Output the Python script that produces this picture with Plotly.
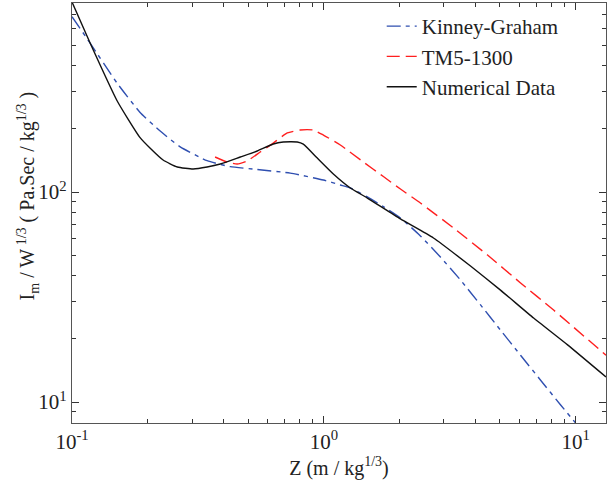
import plotly.graph_objects as go

# Kinney-Graham
kg_z = [0.1, 0.118, 0.151, 0.186, 0.224, 0.269, 0.344, 0.425, 0.544, 0.736, 0.996, 1.163, 1.275,
        1.489, 1.724, 2.015, 2.419, 2.905, 3.489, 4.192, 5.03, 6.043, 7.26, 8.72, 10.0]
kg_i = [684, 512, 330, 240, 195, 164, 141, 132, 128, 123, 114, 108, 104.5,
        94.7, 85.2, 75.2, 61.8, 49.0, 38.1, 29.0, 22.0, 16.7, 12.7, 9.68, 7.94]

# TM5-1300
tm_z = [0.370, 0.413, 0.453, 0.496, 0.559, 0.630, 0.716, 0.806, 0.908, 0.996, 1.163, 1.435,
        1.724, 2.015, 2.419, 3.273, 4.468, 6.043, 8.177, 13.2]
tm_i = [146.8, 139, 135.9, 140.5, 155, 171, 191, 197.3, 197.3, 186.8, 167.4, 139,
        118.5, 103.3, 88.6, 67.4, 50.1, 36.9, 27.4, 16.7]

# Numerical data
num_z = [0.1, 0.118, 0.151, 0.186, 0.204, 0.230, 0.262, 0.303, 0.344, 0.388, 0.466, 0.544,
         0.630, 0.690, 0.784, 0.829, 0.942, 1.091, 1.275, 1.489, 2.015, 2.725, 3.824, 5.03,
         6.81, 9.29, 13.2]
num_i = [803, 512, 272, 182, 162, 142, 131.5, 128.7, 131.5, 135.9, 146.8, 156.8,
         169.3, 173, 173, 169, 145, 121.8, 104.5, 93.6, 74.4, 60.4, 44.4, 34.1,
         25.1, 18.7, 13.15]

x_tickvals = [0.1, 1, 10]
x_ticktext = ["10<sup>-1</sup>", "10<sup>0</sup>", "10<sup>1</sup>"]
y_tickvals = [10, 100]
y_ticktext = ["10<sup>1</sup>", "10<sup>2</sup>"]

x_minor = [m * 10 ** k for k in (-1, 0, 1) for m in range(2, 10)]
y_minor = [m * 10 ** k for k in (0, 1, 2) for m in range(2, 10)]

FONT = "Liberation Serif"

fig = go.Figure()
fig.add_trace(go.Scatter(x=kg_z, y=kg_i, mode="lines", name="Kinney-Graham",
                         line=dict(color="#2f4fb0", width=1.4, dash="14px,5px,4px,5px",
                                   shape="spline", smoothing=0.5)))
fig.add_trace(go.Scatter(x=tm_z, y=tm_i, mode="lines", name="TM5-1300",
                         line=dict(color="#ff1f1f", width=1.4, dash="13px,6px",
                                   shape="spline", smoothing=0.5)))
fig.add_trace(go.Scatter(x=num_z, y=num_i, mode="lines", name="Numerical Data",
                         line=dict(color="#111111", width=1.4,
                                   shape="spline", smoothing=0.5)))

axis_common = dict(showgrid=False, zeroline=False, showline=True, linecolor="#555555",
                   linewidth=1.2, mirror="ticks", ticks="inside", ticklen=7,
                   tickcolor="#333333", tickwidth=1,
                   tickfont=dict(family=FONT, size=21, color="#222222"))

fig.update_xaxes(type="log", range=[-1, 1.1206], tickvals=x_tickvals, ticktext=x_ticktext,
                 minor=dict(ticks="inside", ticklen=4, tickcolor="#333333", tickvals=x_minor),
                 title=dict(text="Z (m / kg<sup>1/3</sup>)", font=dict(family=FONT, size=20, color="#222222"),
                            standoff=4),
                 **axis_common)
fig.update_yaxes(type="log", range=[0.9, 2.9], tickvals=y_tickvals, ticktext=y_ticktext,
                 minor=dict(ticks="inside", ticklen=4, tickcolor="#333333", tickvals=y_minor),
                 **axis_common)

fig.add_annotation(text="I<sub>m</sub> / W<sup> 1/3</sup> ( Pa.Sec / kg<sup>1/3</sup> )",
                   xref="paper", yref="paper", x=-0.082, y=0.54, textangle=-90,
                   xanchor="center", yanchor="middle", showarrow=False,
                   font=dict(family=FONT, size=20, color="#222222"))

fig.update_layout(
    width=613, height=480,
    margin=dict(l=72, r=7, t=3, b=57),
    paper_bgcolor="white", plot_bgcolor="white",
    font=dict(family=FONT, color="#222222"),
    legend=dict(x=0.58, y=0.993, xanchor="left", yanchor="top",
                bgcolor="rgba(0,0,0,0)", font=dict(family=FONT, size=21, color="#222222"),
                tracegroupgap=0),
)

fig.write_html("out.html")
